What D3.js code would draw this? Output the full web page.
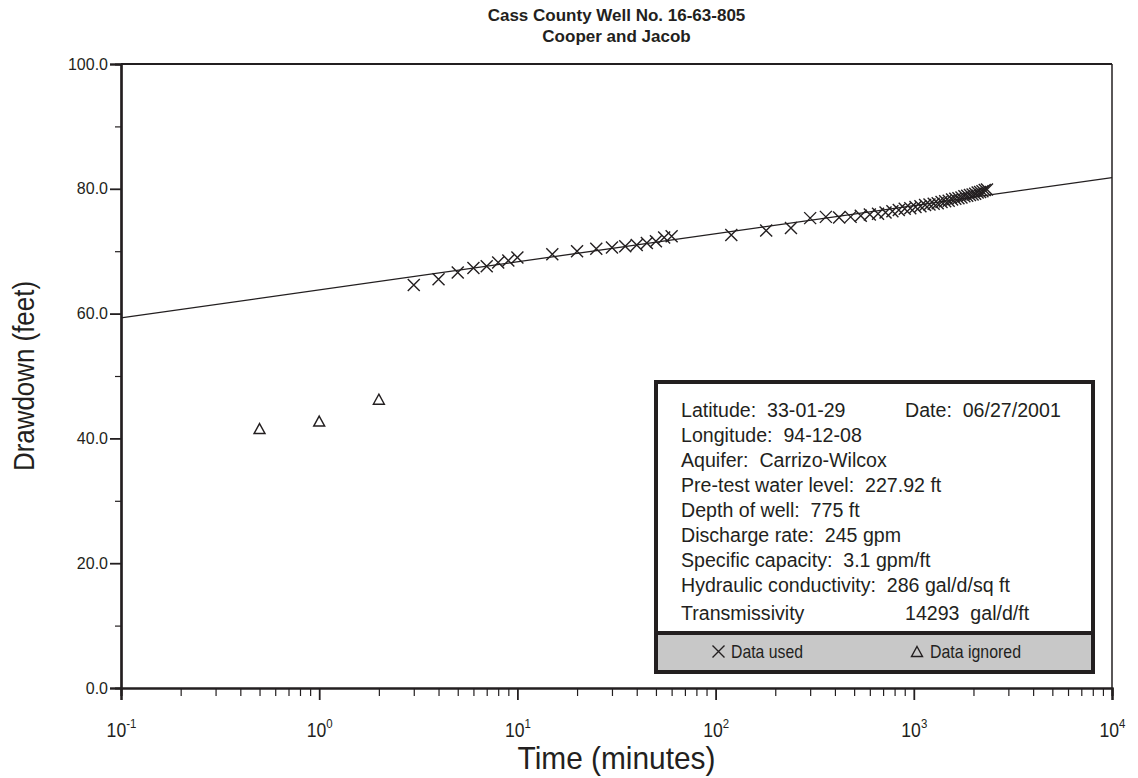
<!DOCTYPE html>
<html>
<head>
<meta charset="utf-8">
<script src="https://cdn.jsdelivr.net/npm/d3@7"></script>
<style>
  html, body { margin: 0; padding: 0; background: #fff; }
  svg { display: block; }
</style>
</head>
<body>
<svg id="chart" width="1138" height="778"></svg>
<script>
// ---- data ----
const titleLines = ["Cass County Well No. 16-63-805", "Cooper and Jacob"];
const xLabel = "Time (minutes)";
const yLabel = "Drawdown (feet)";

// used data (time in minutes, drawdown in feet)
const usedTime = [3, 4, 5, 6, 7, 8, 9, 10, 15, 20, 25, 30, 35, 40, 45, 50, 55, 60,
  120, 180, 240, 300, 360, 420, 480, 540, 600, 660, 720, 780, 840, 900, 960, 1020,
  1080, 1140, 1200, 1260, 1320, 1380, 1440, 1500, 1560, 1620, 1680, 1740, 1800,
  1860, 1920, 1980, 2040, 2100, 2160, 2220, 2280, 2340];
const usedDrawdown = [64.6, 65.5, 66.6, 67.3, 67.6, 68.2, 68.5, 69.0, 69.5, 70.0, 70.4,
  70.6, 70.8, 71.0, 71.3, 71.6, 72.2, 72.4,
  72.6, 73.3, 73.7, 75.3, 75.5, 75.4, 75.5, 75.7, 75.9, 76.0, 76.2, 76.4, 76.6, 76.8,
  76.9, 77.1, 77.2, 77.4, 77.5, 77.6, 77.7, 77.9, 78.0, 78.1, 78.3, 78.4, 78.5, 78.6,
  78.8, 78.9, 79.0, 79.1, 79.2, 79.4, 79.5, 79.6, 79.8, 79.9];

// ignored data
const ignoredTime = [0.5, 1, 2];
const ignoredDrawdown = [41.5, 42.7, 46.2];

// Cooper-Jacob fitted straight line (end points)
const fitTime = [0.1, 10000];
const fitDrawdown = [59.3, 81.8];

// axis ticks
const xMajorTicks = [0.1, 1, 10, 100, 1000, 10000];
const xMajorExponents = ["-1", "0", "1", "2", "3", "4"];
const xMinorTicks = [0.2,0.3,0.4,0.5,0.6,0.7,0.8,0.9, 2,3,4,5,6,7,8,9,
  20,30,40,50,60,70,80,90, 200,300,400,500,600,700,800,900,
  2000,3000,4000,5000,6000,7000,8000,9000];
const yMajorTicks = [0, 20, 40, 60, 80, 100];
const yMinorTicks = [10, 30, 50, 70, 90];

// info box
const infoLeft = ["Latitude:  33-01-29", "Longitude:  94-12-08", "Aquifer:  Carrizo-Wilcox",
  "Pre-test water level:  227.92 ft", "Depth of well:  775 ft", "Discharge rate:  245 gpm",
  "Specific capacity:  3.1 gpm/ft", "Hydraulic conductivity:  286 gal/d/sq ft", "Transmissivity"];
const infoRight = ["Date:  06/27/2001", "", "", "", "", "", "", "", "14293  gal/d/ft"];
const legendLabels = ["Data used", "Data ignored"];

// ---- drawing ----
const svg = d3.select("#chart");
const ink = "#231f20";
const narrow = "'Liberation Sans Narrow', 'Arial Narrow', 'Liberation Sans', Arial, sans-serif";
const regular = "'Liberation Sans', Arial, sans-serif";

const pLeft = 121, pRight = 1112, pTop = 64, pBottom = 688;
const x = d3.scaleLog().domain([0.1, 10000]).range([pLeft, pRight]);
const y = d3.scaleLinear().domain([0, 100]).range([pBottom, pTop]);

// title
svg.append("g").selectAll("text").data(titleLines).join("text")
  .attr("x", (pLeft + pRight) / 2)
  .attr("y", (d, i) => 21 + i * 21)
  .attr("text-anchor", "middle")
  .attr("font-family", narrow)
  .attr("font-weight", "bold")
  .attr("font-size", 17)
  .attr("fill", ink)
  .text(d => d);

// frame: top and right
svg.append("line").attr("x1", pLeft).attr("x2", pRight).attr("y1", pTop).attr("y2", pTop)
  .attr("stroke", ink).attr("stroke-width", 2);
svg.append("line").attr("x1", pRight).attr("x2", pRight).attr("y1", pTop).attr("y2", pBottom)
  .attr("stroke", ink).attr("stroke-width", 1.5);

// x axis
const gxMinor = svg.append("g").attr("transform", `translate(0,${pBottom})`)
  .call(d3.axisBottom(x).tickValues(xMinorTicks).tickSize(8).tickFormat(""));
const gxMajor = svg.append("g").attr("transform", `translate(0,${pBottom})`)
  .call(d3.axisBottom(x).tickValues(xMajorTicks).tickSize(12).tickPadding(22).tickFormat(""));
[gxMinor, gxMajor].forEach(g => {
  g.select(".domain").attr("stroke", ink).attr("stroke-width", 2.2);
  g.selectAll(".tick line").attr("stroke", ink).attr("stroke-width", 1.2);
});
gxMajor.selectAll(".tick line").attr("stroke-width", 1.8);
gxMajor.selectAll(".tick").each(function(d, i) {
  const t = d3.select(this).append("text")
    .attr("y", 49)
    .attr("text-anchor", "middle")
    .attr("fill", ink)
    .attr("font-family", narrow)
    .attr("font-size", 20)
    .attr("transform", "scale(0.88,1)");
  t.append("tspan").text("10");
  t.append("tspan").attr("dy", -9).attr("font-size", 13).text(xMajorExponents[i]);
});

// y axis
const gyMinor = svg.append("g").attr("transform", `translate(${pLeft},0)`)
  .call(d3.axisLeft(y).tickValues(yMinorTicks).tickSize(6).tickFormat(""));
const gyMajor = svg.append("g").attr("transform", `translate(${pLeft},0)`)
  .call(d3.axisLeft(y).tickValues(yMajorTicks).tickSize(11).tickPadding(2).tickFormat(d3.format(".1f")));
[gyMinor, gyMajor].forEach(g => {
  g.select(".domain").attr("stroke", ink).attr("stroke-width", 2.2);
  g.selectAll(".tick line").attr("stroke", ink).attr("stroke-width", 1.2);
});
gyMajor.selectAll(".tick line").attr("stroke-width", 1.8);
gyMajor.selectAll(".tick text")
  .attr("font-family", regular).attr("font-size", 16).attr("fill", ink);

// axis titles
svg.append("text")
  .attr("x", (pLeft + pRight) / 2).attr("y", 769)
  .attr("text-anchor", "middle")
  .attr("font-family", narrow).attr("font-size", 32).attr("fill", ink)
  .attr("textLength", 198).attr("lengthAdjust", "spacingAndGlyphs")
  .text(xLabel);
svg.append("text")
  .attr("transform", `translate(34,${(pTop + pBottom) / 2}) rotate(-90)`)
  .attr("text-anchor", "middle")
  .attr("font-family", narrow).attr("font-size", 30).attr("fill", ink)
  .attr("textLength", 190).attr("lengthAdjust", "spacingAndGlyphs")
  .text(yLabel);

// fitted line
const fit = fitTime.map((t, i) => [t, fitDrawdown[i]]);
svg.append("path")
  .attr("d", d3.line().x(d => x(d[0])).y(d => y(d[1]))(fit))
  .attr("fill", "none").attr("stroke", ink).attr("stroke-width", 1.3);

// markers
const xSize = 6;
function drawCross(g, cx, cy) {
  g.append("path")
    .attr("d", `M${cx - xSize},${cy - xSize}L${cx + xSize},${cy + xSize}M${cx - xSize},${cy + xSize}L${cx + xSize},${cy - xSize}`)
    .attr("stroke", ink).attr("stroke-width", 1.4).attr("fill", "none");
}
function drawTriangle(g, cx, cy) {
  g.append("path")
    .attr("d", `M${cx},${cy - 5.5}L${cx + 5.5},${cy + 4.5}L${cx - 5.5},${cy + 4.5}Z`)
    .attr("stroke", ink).attr("stroke-width", 1.4).attr("fill", "none");
}
const gUsed = svg.append("g");
usedTime.forEach((t, i) => drawCross(gUsed, x(t), y(usedDrawdown[i])));
const gIgn = svg.append("g");
ignoredTime.forEach((t, i) => drawTriangle(gIgn, x(t), y(ignoredDrawdown[i])));

// info box
const bx = 656, by = 382, bw = 437, bh = 290, divY = 633;
const box = svg.append("g");
box.append("rect").attr("x", bx).attr("y", divY).attr("width", bw).attr("height", by + bh - divY)
  .attr("fill", "#c8c8c8");
box.append("rect").attr("x", bx).attr("y", by).attr("width", bw).attr("height", bh)
  .attr("fill", "none").attr("stroke", ink).attr("stroke-width", 4);
box.append("line").attr("x1", bx).attr("x2", bx + bw).attr("y1", divY).attr("y2", divY)
  .attr("stroke", ink).attr("stroke-width", 4);
const baselines = [417, 442, 467, 492, 517, 542, 567, 592, 620];
box.selectAll("text.l").data(infoLeft).join("text").attr("class", "l")
  .attr("x", 681).attr("y", (d, i) => baselines[i])
  .attr("font-family", regular).attr("font-size", 19.6).attr("fill", ink)
  .style("white-space", "pre").text(d => d);
box.selectAll("text.r").data(infoRight).join("text").attr("class", "r")
  .attr("x", 905).attr("y", (d, i) => baselines[i])
  .attr("font-family", regular).attr("font-size", 19.6).attr("fill", ink)
  .style("white-space", "pre").text(d => d);

// legend row
drawCross(box, 718.5, 651.5);
drawTriangle(box, 917, 652);
box.append("text").attr("x", 731).attr("y", 658)
  .attr("font-family", narrow).attr("font-size", 19).attr("fill", ink)
  .attr("textLength", 72).attr("lengthAdjust", "spacingAndGlyphs").text(legendLabels[0]);
box.append("text").attr("x", 930).attr("y", 658)
  .attr("font-family", narrow).attr("font-size", 19).attr("fill", ink)
  .attr("textLength", 91).attr("lengthAdjust", "spacingAndGlyphs").text(legendLabels[1]);
</script>
</body>
</html>
